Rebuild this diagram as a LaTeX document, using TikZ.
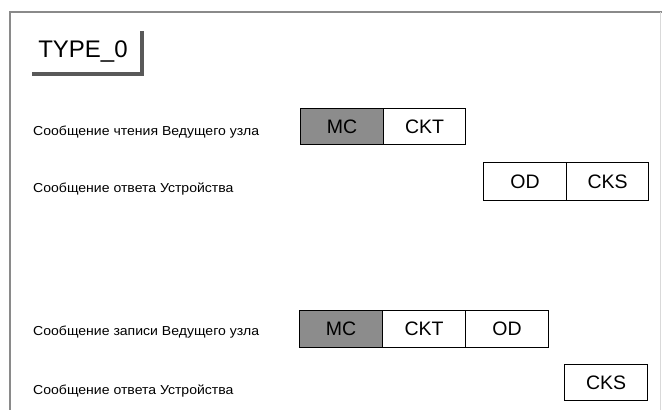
\documentclass[tikz,border=0pt]{standalone}
\usepackage{fontspec}
\setmainfont{Liberation Sans}
\definecolor{mcgray}{HTML}{8C8C8C}
\definecolor{framegray}{HTML}{8A8A8A}
\begin{document}
\begin{tikzpicture}[x=1pt,y=-1pt,
  cell/.style={draw=black,line width=1.1pt,minimum height=36pt,inner sep=0pt,font=\fontsize{19.5}{20}\selectfont,anchor=north west},
  mc/.style={cell,fill=mcgray},
  lbl/.style={anchor=west,inner sep=0pt,xscale=1.08,font=\fontsize{13}{14}\selectfont}]
\useasboundingbox (0,0) rectangle (662,410);
\fill[white] (0,0) rectangle (662,410);
% frame
\draw[framegray,line width=1.5pt] (10,410) -- (10,12) -- (662,12);
\draw[black!15,line width=0.8pt] (660,12) -- (660,410);
% title
\node[inner sep=0pt,font=\fontsize{24}{24}\selectfont] (title) at (83,52) {TYPE\_0};
\draw[black!65,line width=3.5pt] (32,74) -- (142,74) -- (142,31);
% labels
\node[lbl] (l1) at (33,132) {Сообщение чтения Ведущего узла};
\node[lbl] (l2) at (33,189) {Сообщение ответа Устройства};
\node[lbl] (l3) at (33,332) {Сообщение записи Ведущего узла};
\node[lbl] (l4) at (33,391) {Сообщение ответа Устройства};
% row 1
\node[mc,minimum width=83pt] (mc1) at (300,108) {MC};
\node[cell,minimum width=82pt] (ckt1) at (383,108) {CKT};
% row 2
\node[cell,minimum width=83pt,minimum height=38pt] (od2) at (483,162) {OD};
\node[cell,minimum width=82pt,minimum height=38pt] (cks2) at (566,162) {CKS};
% row 3
\node[mc,minimum width=83pt,minimum height=37pt] (mc3) at (299,310) {MC};
\node[cell,minimum width=83pt,minimum height=37pt] (ckt3) at (382,310) {CKT};
\node[cell,minimum width=83pt,minimum height=37pt] (od3) at (465,310) {OD};
% row 4
\node[cell,minimum width=83pt,minimum height=36pt] (cks4) at (564,364) {CKS};
\end{tikzpicture}
\end{document}
